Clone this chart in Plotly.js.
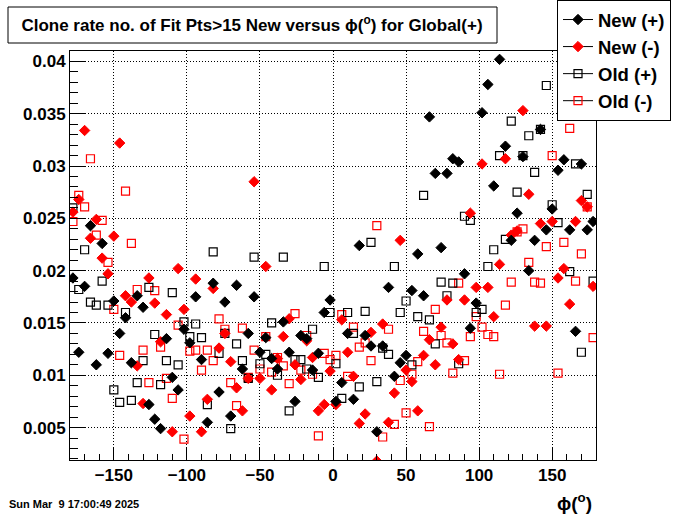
<!DOCTYPE html>
<html>
<head>
<meta charset="utf-8">
<script src="https://cdn.plot.ly/plotly-3.0.1.min.js"></script>
<style>html,body{margin:0;padding:0;background:#fff;}#chart{width:700px;height:514px;}</style>
</head>
<body>
<div id="chart"></div>
<script>
// phi bin centres (degrees)
var phi = [-178,-174,-170,-166,-162,-158,-154,-150,-146,-142,-138,-134,-130,-126,-122,-118,-114,-110,-106,-102,-98,-94,-90,-86,-82,-78,-74,-70,-66,-62,-58,-54,-50,-46,-42,-38,-34,-30,-26,-22,-18,-14,-10,-6,-2,2,6,10,14,18,22,26,30,34,38,42,46,50,54,58,62,66,70,74,78,82,86,90,94,98,102,106,110,114,118,122,126,130,134,138,142,146,150,154,158,162,166,170,174,178];

var newPlus = [0.0193,0.0122,0.0185,0.0243,0.0110,0.0226,0.0121,0.0171,0.0140,0.0155,0.0112,0.0176,0.0165,0.0072,0.0058,0.0049,0.0135,0.0098,0.0086,0.0144,0.0131,0.0175,0.0115,0.0055,0.0188,0.0084,0.0170,0.0061,0.0186,0.0106,0.0140,0.0175,0.0122,0.0136,0.0116,0.0106,0.0151,0.0122,0.0075,0.0138,0.0135,0.0105,0.0121,0.0160,0.0172,0.0075,0.0093,0.0140,0.0077,0.0224,0.0138,0.0128,0.0046,0.0128,0.0184,0.0099,0.0112,0.0119,0.0181,0.0216,0.0176,0.0347,0.0293,0.0222,0.0293,0.0307,0.0304,0.0197,0.0145,0.0169,0.0351,0.0378,0.0281,0.0402,0.0319,0.0229,0.0255,0.0309,0.0200,0.0229,0.0335,0.0239,0.0259,0.0296,0.0306,0.0239,0.0142,0.0302,0.0239,0.0247];

var newMinus = [0.0256,0.0268,0.0334,0.0231,0.0249,0.0212,0.0197,0.0233,0.0322,0.0176,0.0170,0.0109,0.0073,0.0193,0.0169,0.0132,0.0158,0.0046,0.0202,0.0163,0.0061,0.0192,0.0046,0.0077,0.0183,0.0126,0.0140,0.0113,0.0088,0.0066,0.0097,0.0285,0.0097,0.0204,0.0086,0.0116,0.0137,0.0154,0.0110,0.0096,0.0133,0.0117,0.0066,0.0072,0.0104,0.0072,0.0153,0.0122,0.0099,0.0054,0.0063,0.0141,0.0018,0.0149,0.0055,0.0083,0.0229,0.0105,0.0094,0.0066,0.0119,0.0134,0.0110,0.0146,0.0172,0.0130,0.0115,0.0172,0.0255,0.0184,0.0302,0.0184,0.0156,0.0206,0.0307,0.0234,0.0238,0.0353,0.0273,0.0147,0.0245,0.0147,0.0247,0.0193,0.0202,0.0168,0.0247,0.0267,0.0261,0.0185];

var oldPlus = [0.0260,0.0182,0.0220,0.0170,0.0167,0.0190,0.0167,0.0086,0.0074,0.0160,0.0076,0.0093,0.0114,0.0184,0.0139,0.0091,0.0114,0.0179,0.0110,0.0151,0.0137,0.0149,0.0136,0.0072,0.0218,0.0121,0.0140,0.0049,0.0130,0.0114,0.0097,0.0213,0.0111,0.0120,0.0150,0.0100,0.0213,0.0066,0.0115,0.0115,0.0106,0.0144,0.0098,0.0204,0.0160,0.0111,0.0078,0.0160,0.0140,0.0089,0.0161,0.0227,0.0094,0.0126,0.0120,0.0204,0.0160,0.0171,0.0110,0.0156,0.0272,0.0153,0.0130,0.0189,0.0176,0.0188,0.0111,0.0252,0.0248,0.0160,0.0163,0.0204,0.0220,0.0310,0.0230,0.0343,0.0275,0.0310,0.0329,0.0294,0.0335,0.0377,0.0263,0.0246,0.0386,0.0199,0.0302,0.0122,0.0273,0.0190];

var oldMinus = [0.0247,0.0272,0.0261,0.0307,0.0234,0.0248,0.0208,0.0163,0.0119,0.0276,0.0226,0.0182,0.0124,0.0093,0.0181,0.0127,0.0097,0.0078,0.0148,0.0039,0.0123,0.0124,0.0105,0.0124,0.0114,0.0154,0.0144,0.0093,0.0071,0.0145,0.0098,0.0124,0.0106,0.0137,0.0103,0.0117,0.0109,0.0092,0.0159,0.0105,0.0138,0.0101,0.0042,0.0121,0.0115,0.0119,0.0158,0.0099,0.0146,0.0127,0.0131,0.0114,0.0243,0.0041,0.0144,0.0053,0.0095,0.0064,0.0101,0.0113,0.0142,0.0051,0.0163,0.0138,0.0131,0.0102,0.0188,0.0114,0.0137,0.0156,0.0146,0.0139,0.0137,0.0101,0.0167,0.0189,0.0237,0.0240,0.0208,0.0189,0.0188,0.0223,0.0310,0.0102,0.0227,0.0336,0.0190,0.0216,0.0261,0.0136];

var seriesNames = ["New (+)", "New (-)", "Old (+)", "Old (-)"];
var titleText = "Clone rate no. of Fit Pts>15 New versus ϕ(<sup>o</sup>) for Global(+)";
var dateText = "Sun Mar\u00a0 9 17:00:49 2025";
var xTitleText = "ϕ(<sup>o</sup>)";

var F = "Liberation Sans, Arial, Helvetica, sans-serif";
var styles = [
  {symbol: "diamond", color: "#000000", size: 8, lw: 1},
  {symbol: "diamond", color: "#ff0000", size: 8, lw: 1},
  {symbol: "square-open", color: "#000000", size: 8, lw: 1.2},
  {symbol: "square-open", color: "#ff0000", size: 8, lw: 1.2}
];
var ys = [newPlus, newMinus, oldPlus, oldMinus];
var traces = [];
// legend entries (line + marker, as ROOT draws them)
for (var i = 0; i < 4; i++) {
  traces.push({
    x: [null], y: [null], type: "scatter", mode: "lines+markers", name: seriesNames[i],
    line: {color: "#000000", width: 1},
    marker: {symbol: styles[i].symbol, color: styles[i].color, size: styles[i].size, line: {color: styles[i].color, width: styles[i].lw}},
    showlegend: true, hoverinfo: "skip"
  });
}
// data
for (var j = 3; j >= 0; j--) {
  traces.push({
    x: phi, y: ys[j], type: "scatter", mode: "markers", name: seriesNames[j],
    marker: {symbol: styles[j].symbol, color: styles[j].color, size: styles[j].size, line: {color: styles[j].color, width: styles[j].lw}},
    showlegend: false
  });
}

var layout = {
  width: 700, height: 514,
  margin: {l: 70, r: 104, t: 51, b: 54, pad: 0, autoexpand: false},
  paper_bgcolor: "#ffffff", plot_bgcolor: "#ffffff",
  font: {family: F, color: "#000000"},
  title: {text: titleText, font: {family: F, size: 17, weight: "bold", color: "#000"},
          xref: "container", yref: "container", x: 252/700, y: 1 - 25/514, xanchor: "center", yanchor: "middle"},
  xaxis: {
    range: [-180, 180], tick0: 0, dtick: 50, ticks: "inside", ticklen: 12, tickwidth: 1, tickcolor: "#000",
    minor: {dtick: 10, ticks: "inside", ticklen: 6, tickcolor: "#000", showgrid: false},
    showgrid: true, gridcolor: "#000", gridwidth: 1, griddash: "1px,2px",
    showline: true, linecolor: "#000", linewidth: 1, mirror: true, zeroline: false,
    tickfont: {family: F, size: 17, weight: "bold"}
  },
  yaxis: {
    range: [0.0019, 0.041], tick0: 0, dtick: 0.005, ticks: "inside", ticklen: 15, tickwidth: 1, tickcolor: "#000",
    minor: {dtick: 0.001, ticks: "inside", ticklen: 8, tickcolor: "#000", showgrid: false},
    showgrid: true, gridcolor: "#000", gridwidth: 1, griddash: "1px,2px",
    showline: true, linecolor: "#000", linewidth: 1, mirror: true, zeroline: false,
    tickfont: {family: F, size: 17, weight: "bold"}
  },
  legend: {xref: "container", yref: "container", x: 557/700, y: 1 + 6/514, xanchor: "left", yanchor: "top",
           bgcolor: "#ffffff", bordercolor: "#000", borderwidth: 1,
           font: {family: F, size: 18.5, weight: "bold"}, tracegroupgap: 0, itemwidth: 30},
  shapes: [
    {type: "rect", xref: "paper", yref: "paper", x0: (8-70)/526, x1: (497-70)/526,
     y0: 1 + (51-43)/409, y1: 1 + (51-7)/409, line: {color: "#000", width: 1}, fillcolor: "rgba(0,0,0,0)"}
  ],
  annotations: [
    {text: dateText, xref: "paper", yref: "paper", x: (7-70)/526, y: (460-504)/409, xanchor: "left", yanchor: "middle",
     showarrow: false, font: {family: F, size: 11, weight: "bold"}},
    {text: xTitleText, xref: "paper", yref: "paper", x: (594-70)/526, y: (460-502)/409, xanchor: "right", yanchor: "middle",
     showarrow: false, font: {family: F, size: 19, weight: "bold"}}
  ],
  showlegend: true
};
Plotly.newPlot("chart", traces, layout, {displayModeBar: false, staticPlot: true});
</script>
</body>
</html>
